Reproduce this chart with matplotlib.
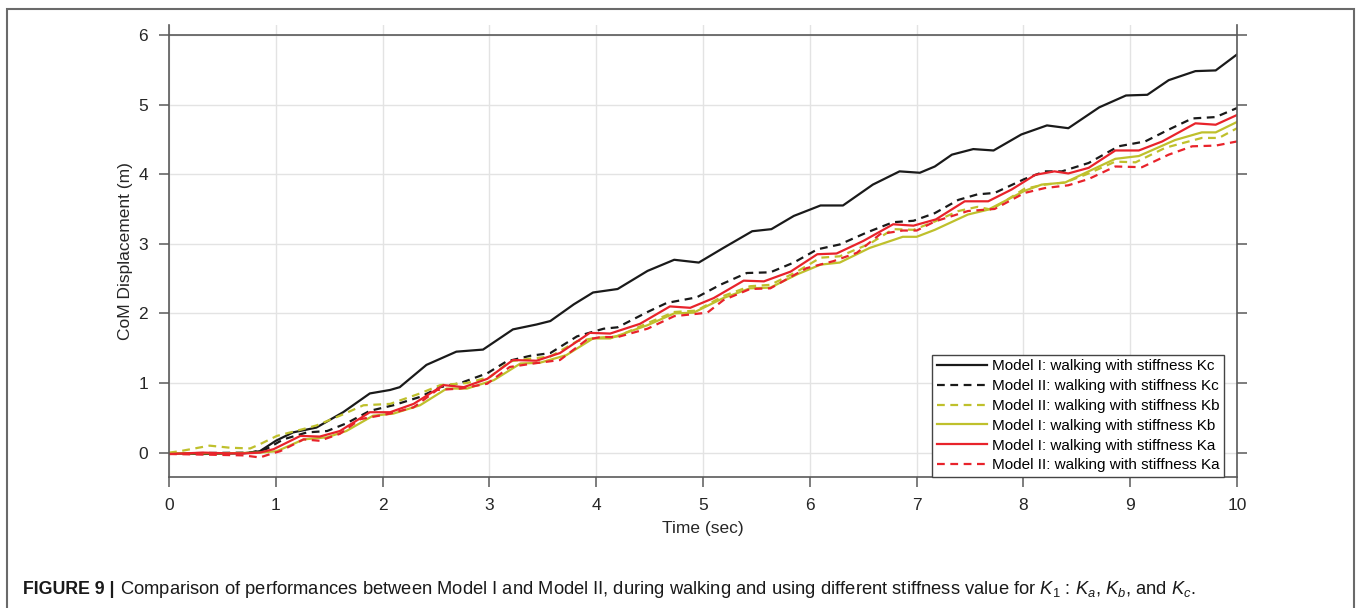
import matplotlib
matplotlib.use("Agg")
import matplotlib.pyplot as plt
from matplotlib.patches import Rectangle

plt.rcParams['font.family'] = ['Liberation Sans', 'DejaVu Sans']
plt.rcParams['mathtext.fontset'] = 'custom'
plt.rcParams['mathtext.rm'] = 'Liberation Sans'
plt.rcParams['mathtext.it'] = 'Liberation Sans:italic'

# ---- data ----
# Model I, stiffness Kc (black solid)
t_m1_kc = [0, 0.3, 0.7, 0.85, 1.0, 1.16, 1.38, 1.63, 1.88, 2.07, 2.16, 2.41, 2.69, 2.94,
           3.22, 3.44, 3.57, 3.79, 3.97, 4.2, 4.48, 4.73, 4.96, 5.19, 5.46, 5.64, 5.85,
           6.10, 6.31, 6.59, 6.84, 7.03, 7.17, 7.33, 7.53, 7.72, 7.98, 8.22, 8.42, 8.71,
           8.96, 9.16, 9.36, 9.61, 9.80, 10.0]
y_m1_kc = [-0.01, -0.02, -0.01, 0.02, 0.17, 0.29, 0.36, 0.58, 0.85, 0.90, 0.94, 1.26, 1.45, 1.48,
           1.77, 1.84, 1.89, 2.13, 2.30, 2.35, 2.61, 2.77, 2.73, 2.94, 3.18, 3.21, 3.40,
           3.55, 3.55, 3.85, 4.04, 4.02, 4.11, 4.28, 4.36, 4.34, 4.57, 4.70, 4.66, 4.96,
           5.13, 5.14, 5.35, 5.48, 5.49, 5.72]

# Model II, stiffness Kc (black dashed)
t_m2_kc = [0, 0.76, 0.91, 1.07, 1.29, 1.48, 1.66, 1.88, 2.10, 2.35, 2.54, 2.73, 2.98, 3.16,
           3.38, 3.57, 3.82, 4.07, 4.2, 4.48, 4.66, 4.94, 5.16, 5.41, 5.63, 5.85, 6.07,
           6.28, 6.53, 6.78, 6.97, 7.17, 7.39, 7.57, 7.73, 8.01, 8.2, 8.36, 8.61, 8.89,
           9.14, 9.36, 9.58, 9.80, 10.0]
y_m2_kc = [-0.01, 0.0, 0.05, 0.19, 0.29, 0.31, 0.42, 0.60, 0.68, 0.80, 0.94, 1.0, 1.14, 1.31,
           1.39, 1.43, 1.67, 1.78, 1.80, 2.02, 2.15, 2.23, 2.41, 2.58, 2.59, 2.73, 2.92,
           2.99, 3.16, 3.31, 3.33, 3.44, 3.63, 3.71, 3.73, 3.93, 4.04, 4.04, 4.16, 4.40,
           4.47, 4.64, 4.80, 4.82, 4.95]

# Model II, stiffness Kb (yellow dashed)
t_m2_kb = [0, 0.10, 0.38, 0.57, 0.76, 0.85, 1.01, 1.26, 1.38, 1.60, 1.82, 2.07, 2.35, 2.54,
           2.79, 3.01, 3.19, 3.38, 3.57, 3.82, 4.0, 4.2, 4.48, 4.73, 4.94, 5.19, 5.44,
           5.63, 5.88, 6.10, 6.28, 6.56, 6.78, 6.97, 7.17, 7.39, 7.57, 7.70, 8.01, 8.20,
           8.39, 8.61, 8.86, 9.05, 9.33, 9.67, 9.83, 10.0]
y_m2_kb = [0.0, 0.02, 0.10, 0.07, 0.06, 0.12, 0.24, 0.34, 0.39, 0.53, 0.68, 0.70, 0.85, 0.97,
           1.0, 1.09, 1.31, 1.35, 1.38, 1.60, 1.65, 1.67, 1.86, 2.02, 2.04, 2.25, 2.39,
           2.41, 2.60, 2.80, 2.82, 3.0, 3.21, 3.20, 3.32, 3.47, 3.53, 3.49, 3.79, 3.85,
           3.88, 4.01, 4.18, 4.17, 4.38, 4.52, 4.52, 4.66]

# Model I, stiffness Kb (yellow solid)
t_m1_kb = [0, 0.5, 0.85, 1.01, 1.26, 1.48, 1.66, 1.91, 2.10, 2.35, 2.60, 2.79, 3.04, 3.29,
           3.47, 3.72, 3.97, 4.13, 4.48, 4.73, 4.91, 5.19, 5.44, 5.63, 5.88, 6.10, 6.28,
           6.56, 6.87, 7.0, 7.17, 7.48, 7.67, 8.01, 8.17, 8.39, 8.61, 8.86, 9.08, 9.42,
           9.67, 9.80, 10.0]
y_m1_kb = [-0.01, -0.01, 0.0, 0.02, 0.19, 0.22, 0.31, 0.53, 0.56, 0.68, 0.92, 0.92, 1.04, 1.28,
           1.29, 1.40, 1.64, 1.64, 1.83, 2.0, 2.01, 2.22, 2.36, 2.37, 2.56, 2.70, 2.73,
           2.94, 3.10, 3.10, 3.2, 3.42, 3.49, 3.76, 3.85, 3.88, 4.04, 4.22, 4.26, 4.49,
           4.60, 4.60, 4.75]

# Model I, stiffness Ka (red solid)
t_m1_ka = [0, 0.32, 0.54, 0.73, 0.85, 0.98, 1.23, 1.41, 1.60, 1.88, 2.07, 2.29, 2.57, 2.76,
           2.98, 3.22, 3.44, 3.66, 3.94, 4.13, 4.41, 4.69, 4.88, 5.10, 5.38, 5.57, 5.82,
           6.07, 6.25, 6.50, 6.78, 6.97, 7.18, 7.45, 7.67, 7.89, 8.11, 8.29, 8.42, 8.61,
           8.86, 9.08, 9.30, 9.61, 9.80, 10.0]
y_m1_ka = [-0.02, 0.0, -0.01, -0.01, 0.0, 0.05, 0.24, 0.23, 0.31, 0.58, 0.58, 0.70, 0.97, 0.94,
           1.06, 1.33, 1.32, 1.43, 1.72, 1.71, 1.85, 2.10, 2.08, 2.22, 2.47, 2.46, 2.60,
           2.85, 2.86, 3.04, 3.28, 3.26, 3.35, 3.61, 3.61, 3.78, 3.99, 4.04, 4.01, 4.09,
           4.34, 4.34, 4.47, 4.73, 4.71, 4.85]

# Model II, stiffness Ka (red dashed)
t_m2_ka = [0, 0.38, 0.70, 0.85, 0.95, 1.04, 1.26, 1.41, 1.60, 1.79, 2.07, 2.29, 2.51, 2.73,
           2.98, 3.19, 3.41, 3.66, 3.91, 4.04, 4.2, 4.48, 4.73, 5.04, 5.19, 5.44, 5.63,
           5.97, 6.22, 6.44, 6.66, 6.87, 7.0, 7.17, 7.48, 7.73, 8.01, 8.20, 8.42, 8.61,
           8.86, 9.11, 9.36, 9.58, 9.80, 10.0]
y_m2_ka = [-0.02, -0.03, -0.04, -0.07, -0.02, 0.02, 0.19, 0.17, 0.27, 0.48, 0.56, 0.65, 0.90, 0.92,
           0.99, 1.23, 1.28, 1.33, 1.62, 1.66, 1.66, 1.78, 1.96, 2.01, 2.19, 2.35, 2.36,
           2.65, 2.75, 2.87, 3.14, 3.19, 3.19, 3.32, 3.47, 3.50, 3.73, 3.80, 3.84, 3.93,
           4.11, 4.10, 4.28, 4.40, 4.41, 4.47]

labels = ['Model I: walking with stiffness Kc',
          'Model II: walking with stiffness Kc',
          'Model II: walking with stiffness Kb',
          'Model I: walking with stiffness Kb',
          'Model I: walking with stiffness Ka',
          'Model II: walking with stiffness Ka']

x_ticks = list(range(0, 11))
y_ticks = list(range(0, 7))

BLACK = '#1a1a1a'
YELLOW = '#bfc02c'
RED = '#e8232b'
SPINE = '#5a5a5a'

fig = plt.figure(figsize=(13.6, 6.08), dpi=100)
ax = fig.add_axes([0.1243, 0.2155, 0.7853, 0.7431])

series = [
    (t_m1_kc, y_m1_kc, BLACK, '-'),
    (t_m2_kc, y_m2_kc, BLACK, '--'),
    (t_m2_kb, y_m2_kb, YELLOW, '--'),
    (t_m1_kb, y_m1_kb, YELLOW, '-'),
    (t_m1_ka, y_m1_ka, RED, '-'),
    (t_m2_ka, y_m2_ka, RED, '--'),
]
for (t, y, c, ls), lab in zip(series, labels):
    ax.plot(t, y, color=c, linestyle=ls, linewidth=1.6, label=lab,
            dashes=(3.5, 2.5) if ls == '--' else (None, None))

ax.set_xlim(0, 10)
ax.set_ylim(-0.35, 6.14)
ax.set_xticks(x_ticks)
ax.set_yticks(y_ticks)
ax.grid(True, color='#e3e3e3', linewidth=1.0)
ax.set_axisbelow(True)
ax.axhline(6, color=SPINE, linewidth=1.2, zorder=1)

for s in ['left', 'right', 'bottom']:
    ax.spines[s].set_color(SPINE)
    ax.spines[s].set_linewidth(1.2)
ax.spines['top'].set_visible(False)
ax.tick_params(axis='both', direction='out', length=7, width=1.1, color=SPINE,
               labelsize=12.5, labelcolor='#262626', pad=8)
ax.tick_params(axis='y', right=True, labelright=False)

ax.set_xlabel('Time (sec)', fontsize=12.5, color='#262626', labelpad=6)
ax.set_ylabel('CoM Displacement (m)', fontsize=12.5, color='#262626', labelpad=4)

leg = ax.legend(loc='lower right', bbox_to_anchor=(0.988, 0.0), borderaxespad=0,
                fontsize=11, fancybox=False, framealpha=1, edgecolor='#444444',
                handlelength=3.3, handletextpad=0.33, labelspacing=0.38,
                borderpad=0.3)
leg.get_frame().set_linewidth(1.0)

# figure frame and caption
fig.patches.append(Rectangle((7 / 1360, -0.05), (1354 - 7) / 1360, 1 - 9 / 608 + 0.05,
                             transform=fig.transFigure, fill=False,
                             edgecolor='#6a6a6a', linewidth=1.5))
cap_font = ['Liberation Sans Narrow', 'Liberation Sans', 'DejaVu Sans']
t1 = fig.text(23 / 1360, 1 - 590 / 608, 'FIGURE 9 |', fontsize=12.8, fontweight='bold',
              family=cap_font, va='center', color='#1a1a1a')
fig.canvas.draw()
bb = t1.get_window_extent()
fig.text(bb.x1 / 1360 + 0.004, 1 - 590 / 608,
         r'Comparison of performances between Model I and Model II, during walking and '
         r'using different stiffness value for $K_1$ : $K_a$, $K_b$, and $K_c$.',
         fontsize=13.2, family=cap_font, va='center', color='#1a1a1a')

fig.savefig('out.png', dpi=100)
